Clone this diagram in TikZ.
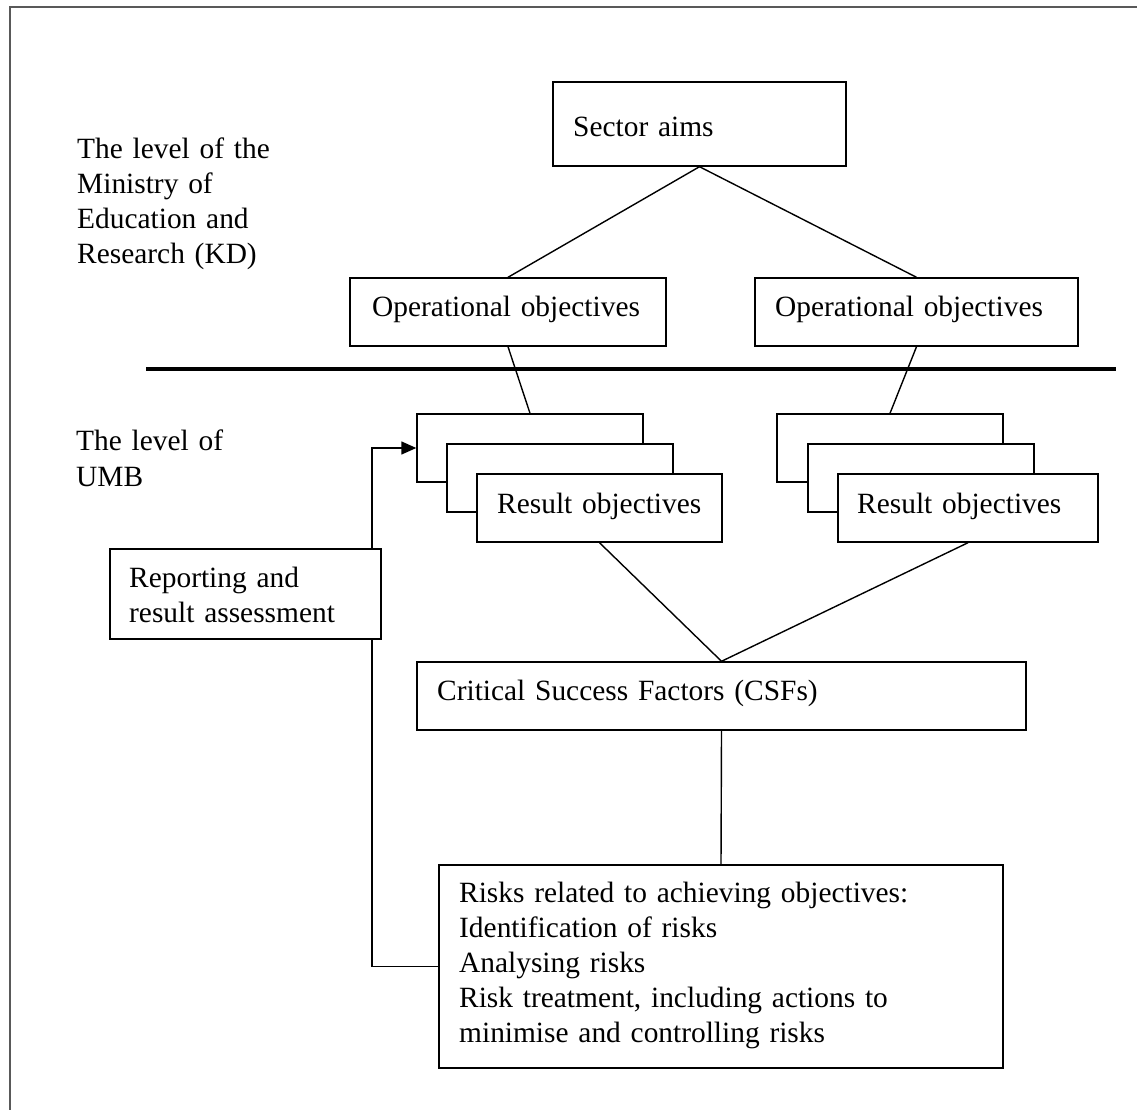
\documentclass[tikz,border=0pt]{standalone}
\usepackage{fontspec}
\setmainfont{Liberation Serif}
\usetikzlibrary{arrows.meta}
\begin{document}
\begin{tikzpicture}[x=1pt,y=-1pt,
  box/.style={draw=black, fill=white, line width=1.4pt, inner sep=0pt},
  txt/.style={anchor=base west, inner sep=0pt, text width=620pt, align=left,
              font=\fontsize{29.4}{35}\selectfont},
  link/.style={draw=black, line width=1.4pt},
  rule/.style={draw=black, line width=4pt},
  frame/.style={draw=black!65, line width=1.5pt},
]
\useasboundingbox (0,0) rectangle (1137,1110);

% page frame (left and top edges)
\draw[frame] (10,1110) -- (10,7) -- (1137,7);

% level labels
\node[txt] (kdlabel) at (77,159) {The level of the\\Ministry of\\Education and\\Research (KD)};
\node[txt] (umblabel) at (76,450) {The level of\\[1pt]UMB};

% separator between the two levels
\coordinate (ruleL) at (146,369);
\coordinate (ruleR) at (1116,369);
\draw[rule] (ruleL) -- (ruleR);

% ministry level
\node[box, minimum width=293, minimum height=84] (sector) at (699.5,124) {};
\node[txt] (sectortxt) at (573,137) {Sector aims};

\node[box, minimum width=316, minimum height=68] (opL) at (508,312) {};
\node[txt] (opLtxt) at (372,316) {Operational objectives};
\node[box, minimum width=323, minimum height=68] (opR) at (916.5,312) {};
\node[txt] (opRtxt) at (775,316) {Operational objectives};

\draw[link] (sector.south) -- (opL.north);
\draw[link] (sector.south) -- (opR.north);

% stacked result objectives, back to front
\node[box, minimum width=226, minimum height=68] (rL1) at (530,448) {};
\node[box, minimum width=226, minimum height=68] (rL2) at (560,478) {};
\node[box, minimum width=245, minimum height=68] (rL3) at (599.5,508) {};
\node[txt] (rLtxt) at (497,513) {Result objectives};

\node[box, minimum width=226, minimum height=68] (rR1) at (890,448) {};
\node[box, minimum width=226, minimum height=68] (rR2) at (921,478) {};
\node[box, minimum width=260, minimum height=68] (rR3) at (968,508) {};
\node[txt] (rRtxt) at (857,513) {Result objectives};

\draw[link] (opL.south) -- (rL1.north);
\draw[link] (opR.south) -- (rR1.north);

% critical success factors
\node[box, minimum width=609, minimum height=68] (csf) at (721.5,696) {};
\node[txt] (csftxt) at (437,700) {Critical Success Factors (CSFs)};

\draw[link] (rL3.south) -- (csf.north);
\draw[link] (rR3.south) -- (csf.north);

% risks
\node[box, minimum width=564, minimum height=203] (risks) at (721,966.5) {};
\node[txt] (riskstxt) at (459,902) {Risks related to achieving objectives:\\Identification of risks\\Analysing risks\\Risk treatment, including actions to\\minimise and controlling risks};

\draw[link] (csf.south) -- (risks.north);

% feedback loop back to the result objectives
\coordinate (fbx) at (372,0);
\draw[link, -{Triangle[length=15pt,width=13pt]}]
  (risks.west) -- (risks.west -| fbx) -- (rL1.west -| fbx) -- (rL1.west);

% reporting box sits on top of the feedback line
\node[box, minimum width=271, minimum height=90] (report) at (245.5,594) {};
\node[txt] (reporttxt) at (129,587) {Reporting and\\result assessment};
\end{tikzpicture}
\end{document}
